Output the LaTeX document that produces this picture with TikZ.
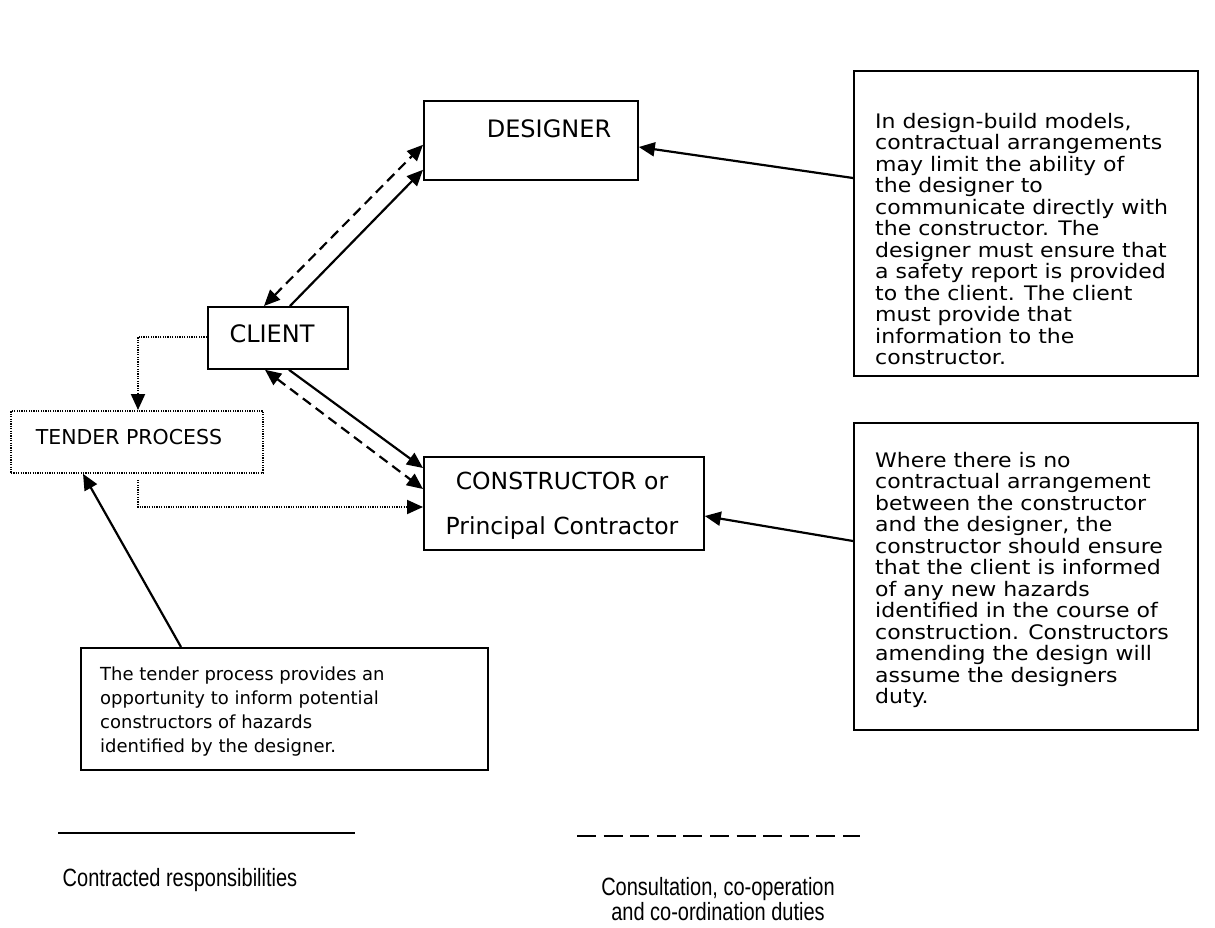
\documentclass[tikz,border=0pt]{standalone}
\usepackage{fontspec}
\setmainfont{DejaVu Sans}
\newfontfamily\parafont[FakeStretch=1.1]{DejaVu Sans}
\newfontfamily\narrowfont[FakeStretch=0.8]{Liberation Sans}
\usetikzlibrary{arrows.meta}
\begin{document}
\begin{tikzpicture}[x=1pt,y=-1pt,
  box/.style={draw,line width=1.8pt,inner sep=0pt},
  lbl/.style={font=\fontsize{24}{28}\selectfont,inner sep=0pt},
  para/.style={font=\parafont\fontsize{20}{21.5}\selectfont,inner sep=0pt,align=left,anchor=north west},
  conn/.style={line width=2.2pt,-{Triangle[length=16pt,width=14pt]}},
  dconn/.style={line width=2.2pt,dash pattern=on 10pt off 6pt,{Triangle[length=16pt,width=14pt]}-{Triangle[length=16pt,width=14pt]}},
  dotc/.style={line width=2pt,dash pattern=on 1.2pt off 1.2pt,-{Triangle[length=16pt,width=14pt]}},
  legend/.style={font=\narrowfont\fontsize{25}{25}\selectfont,inner sep=0pt,align=center}
]
\useasboundingbox (0,0) rectangle (1215,927);
% main boxes
\node[box,minimum width=214pt,minimum height=79pt,anchor=north west] (des) at (423,100) {};
\node[lbl,anchor=base] at (549,137) {DESIGNER};
\node[box,minimum width=140pt,minimum height=62pt,anchor=north west] (cli) at (207,306) {};
\node[lbl,anchor=base] at (272,342) {CLIENT};
\node[draw,line width=1.8pt,dash pattern=on 1.2pt off 1.2pt,inner sep=0pt,minimum width=252pt,minimum height=62pt,anchor=north west] (ten) at (10,410) {};
\node[lbl,font=\fontsize{20.5}{24}\selectfont,anchor=base] at (129,444) {TENDER PROCESS};
\node[box,minimum width=280pt,minimum height=93pt,anchor=north west] (con) at (423,456) {};
\node[lbl,font=\fontsize{23.5}{28}\selectfont,anchor=base] at (562,489) {CONSTRUCTOR or};
\node[lbl,font=\fontsize{23.5}{28}\selectfont,anchor=base] at (562,534) {Principal Contractor};
% note boxes
\node[box,minimum width=344pt,minimum height=305pt,anchor=north west] (n1) at (853,70) {};
\node[para] at (875,113) {In design-build models,\\contractual arrangements\\may limit the ability of\\the designer to\\communicate directly with\\the constructor. The\\designer must ensure that\\a safety report is provided\\to the client. The client\\must provide that\\information to the\\constructor.};
\node[box,minimum width=344pt,minimum height=307pt,anchor=north west] (n2) at (853,422) {};
\node[para] at (875,452) {Where there is no\\contractual arrangement\\between the constructor\\and the designer, the\\constructor should ensure\\that the client is informed\\of any new hazards\\identified in the course of\\construction. Constructors\\amending the design will\\assume the designers\\duty.};
\node[box,minimum width=407pt,minimum height=122pt,anchor=north west] (n3) at (80,647) {};
\node[para,font=\fontsize{18}{24}\selectfont] at (100,667) {The tender process provides an\\opportunity to inform potential\\constructors of hazards\\identified by the designer.};
% connectors
\draw[conn] ([xshift=83pt]cli.north west) -- ([yshift=11pt]des.south west);
\draw[dconn] ([xshift=57pt]cli.north west) -- ([yshift=36pt]des.south west);
\draw[conn] ([xshift=82pt]cli.south west) -- ([yshift=-12pt]con.north west);
\draw[dconn] ([xshift=58pt]cli.south west) -- ([yshift=-33pt]con.north west);
\draw[dotc] ([yshift=33pt]cli.south west) -| ([xshift=128pt]ten.north west);
\draw[dotc] ([xshift=128pt,yshift=-6pt]ten.south west) |- ([yshift=-51pt]con.north west);
\draw[conn] ([xshift=101pt]n3.north west) -- ([xshift=73pt]ten.south west);
\draw[conn] ([yshift=-108pt]n1.north west) -- ([yshift=-47pt]des.north east);
\draw[conn] ([yshift=-119pt]n2.north west) -- ([yshift=-60pt]con.north east);
% legend
\coordinate (l1a) at (58,833); \coordinate (l1b) at (355,833);
\draw[line width=2.5pt] (l1a) -- (l1b);
\coordinate (l2a) at (577,836); \coordinate (l2b) at (860,836);
\draw[line width=2.5pt,dash pattern=on 19pt off 7.6pt] (l2a) -- (l2b);
\node[legend] (lt1) at (180,880) {Contracted responsibilities};
\node[legend,align=center] (lt2) at (718,899) {Consultation, co-operation\\and co-ordination duties};
\end{tikzpicture}
\end{document}
